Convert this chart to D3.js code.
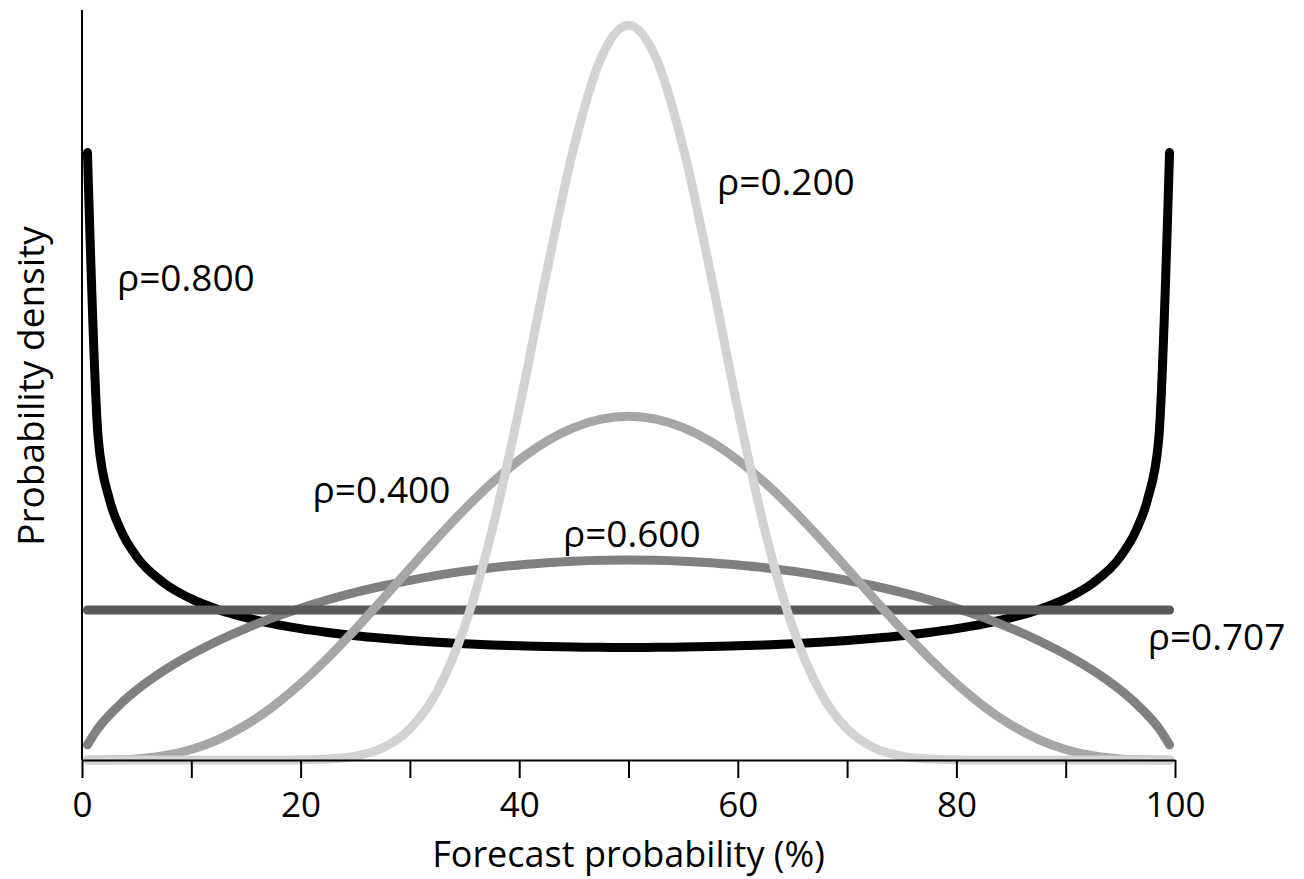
<!DOCTYPE html>
<html>
<head>
<meta charset="utf-8">
<script src="https://cdn.jsdelivr.net/npm/d3@7"></script>
<style>
  body { margin: 0; background: #fff; }
  text { font-family: "Open Sans", "Noto Sans", sans-serif; fill: #000; }
</style>
</head>
<body>
<div id="chart"></div>
<script>
// forecast probability (%) where the curves were read
var xs = [0.5, 1.5, 2.5, 3.5, 5, 7.5, 10, 12.5, 15, 17.5, 20, 22.5, 25, 27.5, 30, 32.5, 35, 37.5, 40, 42.5, 45, 47.5, 50,
  52.5, 55, 57.5, 60, 62.5, 65, 67.5, 70, 72.5, 75, 77.5, 80, 82.5, 85, 87.5, 90, 92.5, 95, 96.5, 97.5, 98.5, 99.5]

// probability density, one list per rho
var rho800 = [4.05, 2.13, 1.74, 1.54, 1.355, 1.18, 1.074, 1.002, 0.949, 0.908, 0.876, 0.85, 0.828, 0.811, 0.797, 0.785, 0.775, 0.767, 0.761, 0.756, 0.753, 0.751, 0.75,
  0.751, 0.753, 0.756, 0.761, 0.767, 0.775, 0.785, 0.797, 0.811, 0.828, 0.85, 0.876, 0.908, 0.949, 1.002, 1.074, 1.18, 1.355, 1.54, 1.74, 2.13, 4.05]
var rho707 = [1, 1, 1, 1, 1, 1, 1, 1, 1, 1, 1, 1, 1, 1, 1, 1, 1, 1, 1, 1, 1, 1, 1,
  1, 1, 1, 1, 1, 1, 1, 1, 1, 1, 1, 1, 1, 1, 1, 1, 1, 1, 1, 1, 1, 1]
var rho600 = [0.101, 0.214, 0.299, 0.372, 0.466, 0.596, 0.704, 0.797, 0.878, 0.949, 1.012, 1.068, 1.117, 1.16, 1.198, 1.231, 1.259, 1.282, 1.3, 1.315, 1.325, 1.331, 1.333,
  1.331, 1.325, 1.315, 1.3, 1.282, 1.259, 1.231, 1.198, 1.16, 1.117, 1.068, 1.012, 0.949, 0.878, 0.797, 0.704, 0.596, 0.466, 0.372, 0.299, 0.214, 0.101]
var rho400 = [0, 0, 0.001, 0.002, 0.007, 0.028, 0.07, 0.138, 0.234, 0.358, 0.509, 0.681, 0.871, 1.072, 1.277, 1.479, 1.671, 1.847, 1.999, 2.124, 2.216, 2.272, 2.291,
  2.272, 2.216, 2.124, 1.999, 1.847, 1.671, 1.479, 1.277, 1.072, 0.871, 0.681, 0.509, 0.358, 0.234, 0.138, 0.07, 0.028, 0.007, 0.002, 0.001, 0, 0]
var rho200 = [0, 0, 0, 0, 0, 0, 0, 0, 0, 0, 0.001, 0.007, 0.026, 0.08, 0.207, 0.459, 0.888, 1.525, 2.341, 3.247, 4.085, 4.683, 4.899,
  4.683, 4.085, 3.247, 2.341, 1.525, 0.888, 0.459, 0.207, 0.08, 0.026, 0.007, 0.001, 0, 0, 0, 0, 0, 0, 0, 0, 0, 0]

var xTicks = [0, 10, 20, 30, 40, 50, 60, 70, 80, 90, 100]
var xTickLabels = [0, 20, 40, 60, 80, 100]

// draw order: later series sit on top
var series = [
  { name: "ρ=0.800", values: rho800, color: "#000000", lx: 3.2, ly: 3.13 },
  { name: "ρ=0.600", values: rho600, color: "#808080", lx: 44.0, ly: 1.42 },
  { name: "ρ=0.707", values: rho707, color: "#595959", lx: 97.5, ly: 0.733 },
  { name: "ρ=0.400", values: rho400, color: "#a6a6a6", lx: 21.1, ly: 1.713 },
  { name: "ρ=0.200", values: rho200, color: "#d3d3d3", lx: 58.1, ly: 3.767 }
]

var W = 1304, H = 879
var margin = { top: 10, right: 129, bottom: 119, left: 82 },
  width = W - margin.left - margin.right,
  height = H - margin.top - margin.bottom

var svg = d3.select("#chart")
  .append("svg")
  .attr("width", W)
  .attr("height", H)
  .append("g")
  .attr("transform", "translate(" + margin.left + "," + margin.top + ")")

var x = d3.scaleLinear().domain([0, 100]).range([0, width])
var y = d3.scaleLinear().domain([0, 5]).range([height, 0])

// curves
var line = d3.line()
  .x(function (d) { return x(d[0]) })
  .y(function (d) { return y(d[1]) })
  .curve(d3.curveMonotoneX)

svg.selectAll(".curve")
  .data(series)
  .enter()
  .append("path")
  .attr("class", "curve")
  .attr("fill", "none")
  .attr("stroke", function (d) { return d.color })
  .attr("stroke-width", 9)
  .attr("stroke-linecap", "round")
  .attr("stroke-linejoin", "round")
  .attr("d", function (d) { return line(d.values.map(function (v, i) { return [xs[i], v] })) })

// x axis
var xAxis = svg.append("g")
  .attr("transform", "translate(0," + height + ")")
  .call(d3.axisBottom(x).tickValues(xTicks).tickSize(18).tickSizeOuter(0)
    .tickFormat(function (d) { return xTickLabels.indexOf(d) >= 0 ? d : "" }))
xAxis.select(".domain").attr("stroke", "#000").attr("stroke-width", 2.2)
xAxis.selectAll(".tick line").attr("stroke", "#000").attr("stroke-width", 2)
xAxis.selectAll(".tick text")
  .attr("y", 57)
  .attr("dy", 0)
  .style("font-size", "35px")
  .style("font-family", "'Open Sans', sans-serif")
  .attr("fill", "#000")

// y axis: plain line, no ticks
svg.append("line")
  .attr("x1", 0).attr("x2", 0)
  .attr("y1", 0).attr("y2", height)
  .attr("stroke", "#000")
  .attr("stroke-width", 2)

// axis titles
svg.append("text")
  .attr("text-anchor", "middle")
  .attr("x", width / 2)
  .attr("y", height + 107)
  .style("font-size", "36px")
  .text("Forecast probability (%)")

svg.append("text")
  .attr("text-anchor", "middle")
  .attr("transform", "translate(-38," + (376) + ") rotate(-90)")
  .style("font-size", "37px")
  .text("Probability density")

// curve labels
svg.selectAll(".lab")
  .data(series)
  .enter()
  .append("text")
  .attr("class", "lab")
  .attr("x", function (d) { return x(d.lx) })
  .attr("y", function (d) { return y(d.ly) })
  .style("font-size", "37px")
  .text(function (d) { return d.name })
</script>
</body>
</html>
